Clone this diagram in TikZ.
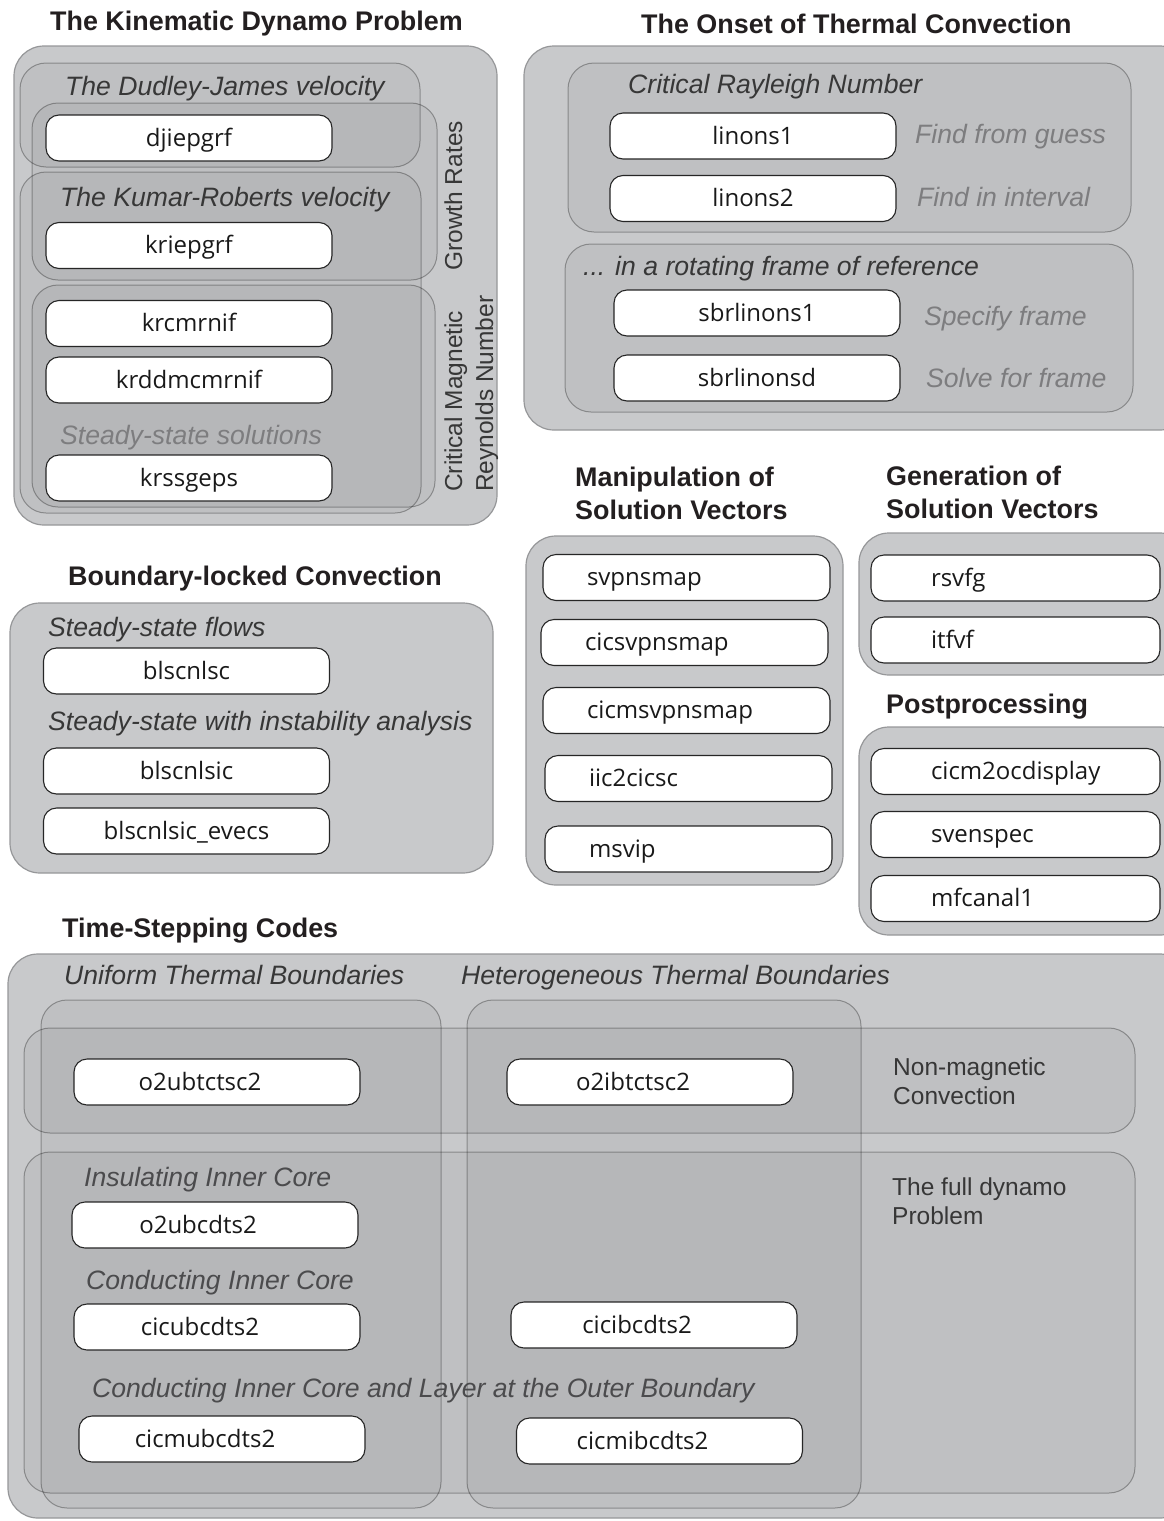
\documentclass[tikz,border=0pt]{standalone}
\usepackage{fontspec}
\setmainfont{Liberation Sans}
\newfontfamily\boxfont{Open Sans}
\definecolor{outerfill}{RGB}{200,201,203}
\definecolor{outerline}{RGB}{150,151,153}
\definecolor{labdark}{RGB}{55,55,55}
\definecolor{labmid}{RGB}{75,75,77}
\definecolor{labgray}{RGB}{125,125,127}
\definecolor{titlecol}{RGB}{35,31,32}
\newcommand\mkgroup[6]{%
  \node[#2, minimum width={#5-#3}, minimum height={#6-#4}, inner sep=0pt] (#1) at ({(#3+#5)/2},{(#4+#6)/2}) {};}
\tikzset{
  outer/.style={draw=outerline, fill=outerfill, line width=1.2pt, rounded corners=30pt},
  inner/.style={draw=black, draw opacity=0.3, fill=black, fill opacity=0.045, line width=1pt, rounded corners=26pt},
  wbox/.style={draw=black!85, fill=white, line width=1.1pt, rounded corners=13pt,
    minimum width=286pt, minimum height=46pt, inner ysep=0pt, text height=19.5pt, text depth=3.5pt,
    font=\boxfont\fontsize{24}{28}\selectfont, text=black!90},
  tsbox/.style={wbox, execute at begin node=\hspace*{-34pt}},
  lboxA/.style={wbox, text width=267pt, inner xsep=10pt, align=left, execute at begin node=\hspace*{34pt}},
  lboxB/.style={wbox, minimum width=289pt, text width=269pt, inner xsep=10pt, align=left, execute at begin node=\hspace*{50pt}},
  ttl/.style={font=\bfseries\fontsize{26.9}{30}\selectfont, text=titlecol, anchor=base west, inner sep=0pt},
  itl/.style={font=\itshape\fontsize{26.6}{30}\selectfont, text=labdark, anchor=base west, inner sep=0pt},
  mitl/.style={itl, text=labmid},
  gitl/.style={itl, text=labgray},
  note/.style={font=\fontsize{24.5}{29}\selectfont, text=labdark, anchor=base west, inner sep=0pt}
}
\begin{document}
\begin{tikzpicture}[x=1pt,y=-1pt]
\useasboundingbox (0,0) rectangle (1163,1521);

% ---------- The Kinematic Dynamo Problem ----------
\node[ttl] (t-kin) at (50,30) {The Kinematic Dynamo Problem};
\mkgroup{kin}{outer}{14}{46}{497}{525}
\mkgroup{kin-dj}{inner}{20}{63}{420}{167}
\mkgroup{kin-kr}{inner}{20}{172}{421}{513}
\mkgroup{kin-gr}{inner}{32}{103}{437}{280}
\mkgroup{kin-cm}{inner}{32}{285}{435}{507}
\node[itl] (l-dj) at (65,95) {The Dudley-James velocity};
\node[itl] (l-kr) at (60,206) {The Kumar-Roberts velocity};
\node[gitl] (l-ss) at (60,444) {Steady-state solutions};
\node[note, rotate=90] (l-gr) at (462,271) {Growth Rates};
\node[note, rotate=90] (l-cm1) at (462,492) {Critical Magnetic};
\node[note, rotate=90] (l-cm2) at (493,492) {Reynolds Number};
\node[wbox] (djiepgrf) at (189,138) {djiepgrf};
\node[wbox] (kriepgrf) at (189,245.5) {kriepgrf};
\node[wbox] (krcmrnif) at (189,323.5) {krcmrnif};
\node[wbox] (krddmcmrnif) at (189,380) {krddmcmrnif};
\node[wbox] (krssgeps) at (189,478) {krssgeps};

% ---------- The Onset of Thermal Convection ----------
\node[ttl] (t-onset) at (641,33) {The Onset of Thermal Convection};
\mkgroup{onset}{outer}{524}{46}{1190}{430}
\mkgroup{onset-cr}{inner}{568}{63}{1131}{232}
\mkgroup{onset-rot}{inner}{565}{244}{1133}{412}
\node[itl] (l-crn) at (628,93) {Critical Rayleigh Number};
\node[gitl] (l-ffg) at (915,143) {Find from guess};
\node[gitl] (l-fii) at (917,206) {Find in interval};
\node[itl] (l-rot) at (583,275) {... in a rotating frame of reference};
\node[gitl] (l-sf) at (924,325) {Specify frame};
\node[gitl] (l-sff) at (926,387) {Solve for frame};
\node[wbox] (linons1) at (753,136) {linons1};
\node[wbox] (linons2) at (753,198.5) {linons2};
\node[wbox] (sbrlinons1) at (757,313) {sbrlinons1};
\node[wbox] (sbrlinonsd) at (757,378) {sbrlinonsd};

% ---------- Boundary-locked Convection ----------
\node[ttl] (t-blc) at (68,585) {Boundary-locked Convection};
\mkgroup{blc}{outer}{10}{603}{493}{873}
\node[itl] (l-ssf) at (48,636) {Steady-state flows};
\node[itl] (l-ssi) at (48,730) {Steady-state with instability analysis};
\node[wbox] (blscnlsc) at (186.5,671) {blscnlsc};
\node[wbox] (blscnlsic) at (186.5,771) {blscnlsic};
\node[wbox] (blscnlsicev) at (186.5,831) {blscnlsic\_evecs};

% ---------- Manipulation of Solution Vectors ----------
\node[ttl] (t-man1) at (575,486) {Manipulation of};
\node[ttl] (t-man2) at (575,519) {Solution Vectors};
\mkgroup{man}{outer}{526}{536}{843}{885}
\node[lboxA] (svpnsmap) at (686.5,577.5) {svpnsmap};
\node[lboxA] (cicsvpnsmap) at (684.5,642.5) {cicsvpnsmap};
\node[lboxA] (cicmsvpnsmap) at (686.5,710.5) {cicmsvpnsmap};
\node[lboxA] (iic2cicsc) at (688.5,778.5) {iic2cicsc};
\node[lboxA] (msvip) at (688.5,849) {msvip};

% ---------- Generation of Solution Vectors ----------
\node[ttl] (t-gen1) at (886,485) {Generation of};
\node[ttl] (t-gen2) at (886,518) {Solution Vectors};
\mkgroup{gen}{outer}{859}{533}{1190}{675}
\node[lboxB] (rsvfg) at (1015.5,578) {rsvfg};
\node[lboxB] (itfvf) at (1015.5,640) {itfvf};

% ---------- Postprocessing ----------
\node[ttl] (t-post) at (886,713) {Postprocessing};
\mkgroup{post}{outer}{859}{727}{1190}{935}
\node[lboxB] (cicm2ocdisplay) at (1015.5,771.5) {cicm2ocdisplay};
\node[lboxB] (svenspec) at (1015.5,834.5) {svenspec};
\node[lboxB] (mfcanal1) at (1015.5,898.5) {mfcanal1};

% ---------- Time-Stepping Codes ----------
\node[ttl] (t-ts) at (62,937) {Time-Stepping Codes};
\mkgroup{ts}{outer}{8}{954}{1190}{1518}
\mkgroup{ts-uni}{inner}{41}{1000}{441}{1508}
\mkgroup{ts-het}{inner}{467}{1000}{861}{1508}
\mkgroup{ts-nm}{inner}{24}{1028}{1135}{1133}
\mkgroup{ts-fd}{inner}{24}{1152}{1135}{1493}
\node[itl] (l-utb) at (64,984) {Uniform Thermal Boundaries};
\node[itl] (l-htb) at (461,984) {Heterogeneous Thermal Boundaries};
\node[note] (l-nm1) at (893,1075) {Non-magnetic};
\node[note] (l-nm2) at (893,1104) {Convection};
\node[note] (l-fd1) at (892,1195) {The full dynamo};
\node[note] (l-fd2) at (892,1224) {Problem};
\node[mitl] (l-iic) at (84,1186) {Insulating Inner Core};
\node[mitl] (l-cic) at (86,1289) {Conducting Inner Core};
\node[mitl] (l-cicl) at (92,1397) {Conducting Inner Core and Layer at the Outer Boundary};
\node[tsbox] (o2ubtctsc2) at (217,1082) {o2ubtctsc2};
\node[tsbox] (o2ibtctsc2) at (650,1082) {o2ibtctsc2};
\node[tsbox] (o2ubcdts2) at (215,1225) {o2ubcdts2};
\node[tsbox] (cicubcdts2) at (217,1327) {cicubcdts2};
\node[tsbox] (cicibcdts2) at (654,1325) {cicibcdts2};
\node[tsbox] (cicmubcdts2) at (222,1439) {cicmubcdts2};
\node[tsbox] (cicmibcdts2) at (659.5,1441) {cicmibcdts2};
\end{tikzpicture}
\end{document}
